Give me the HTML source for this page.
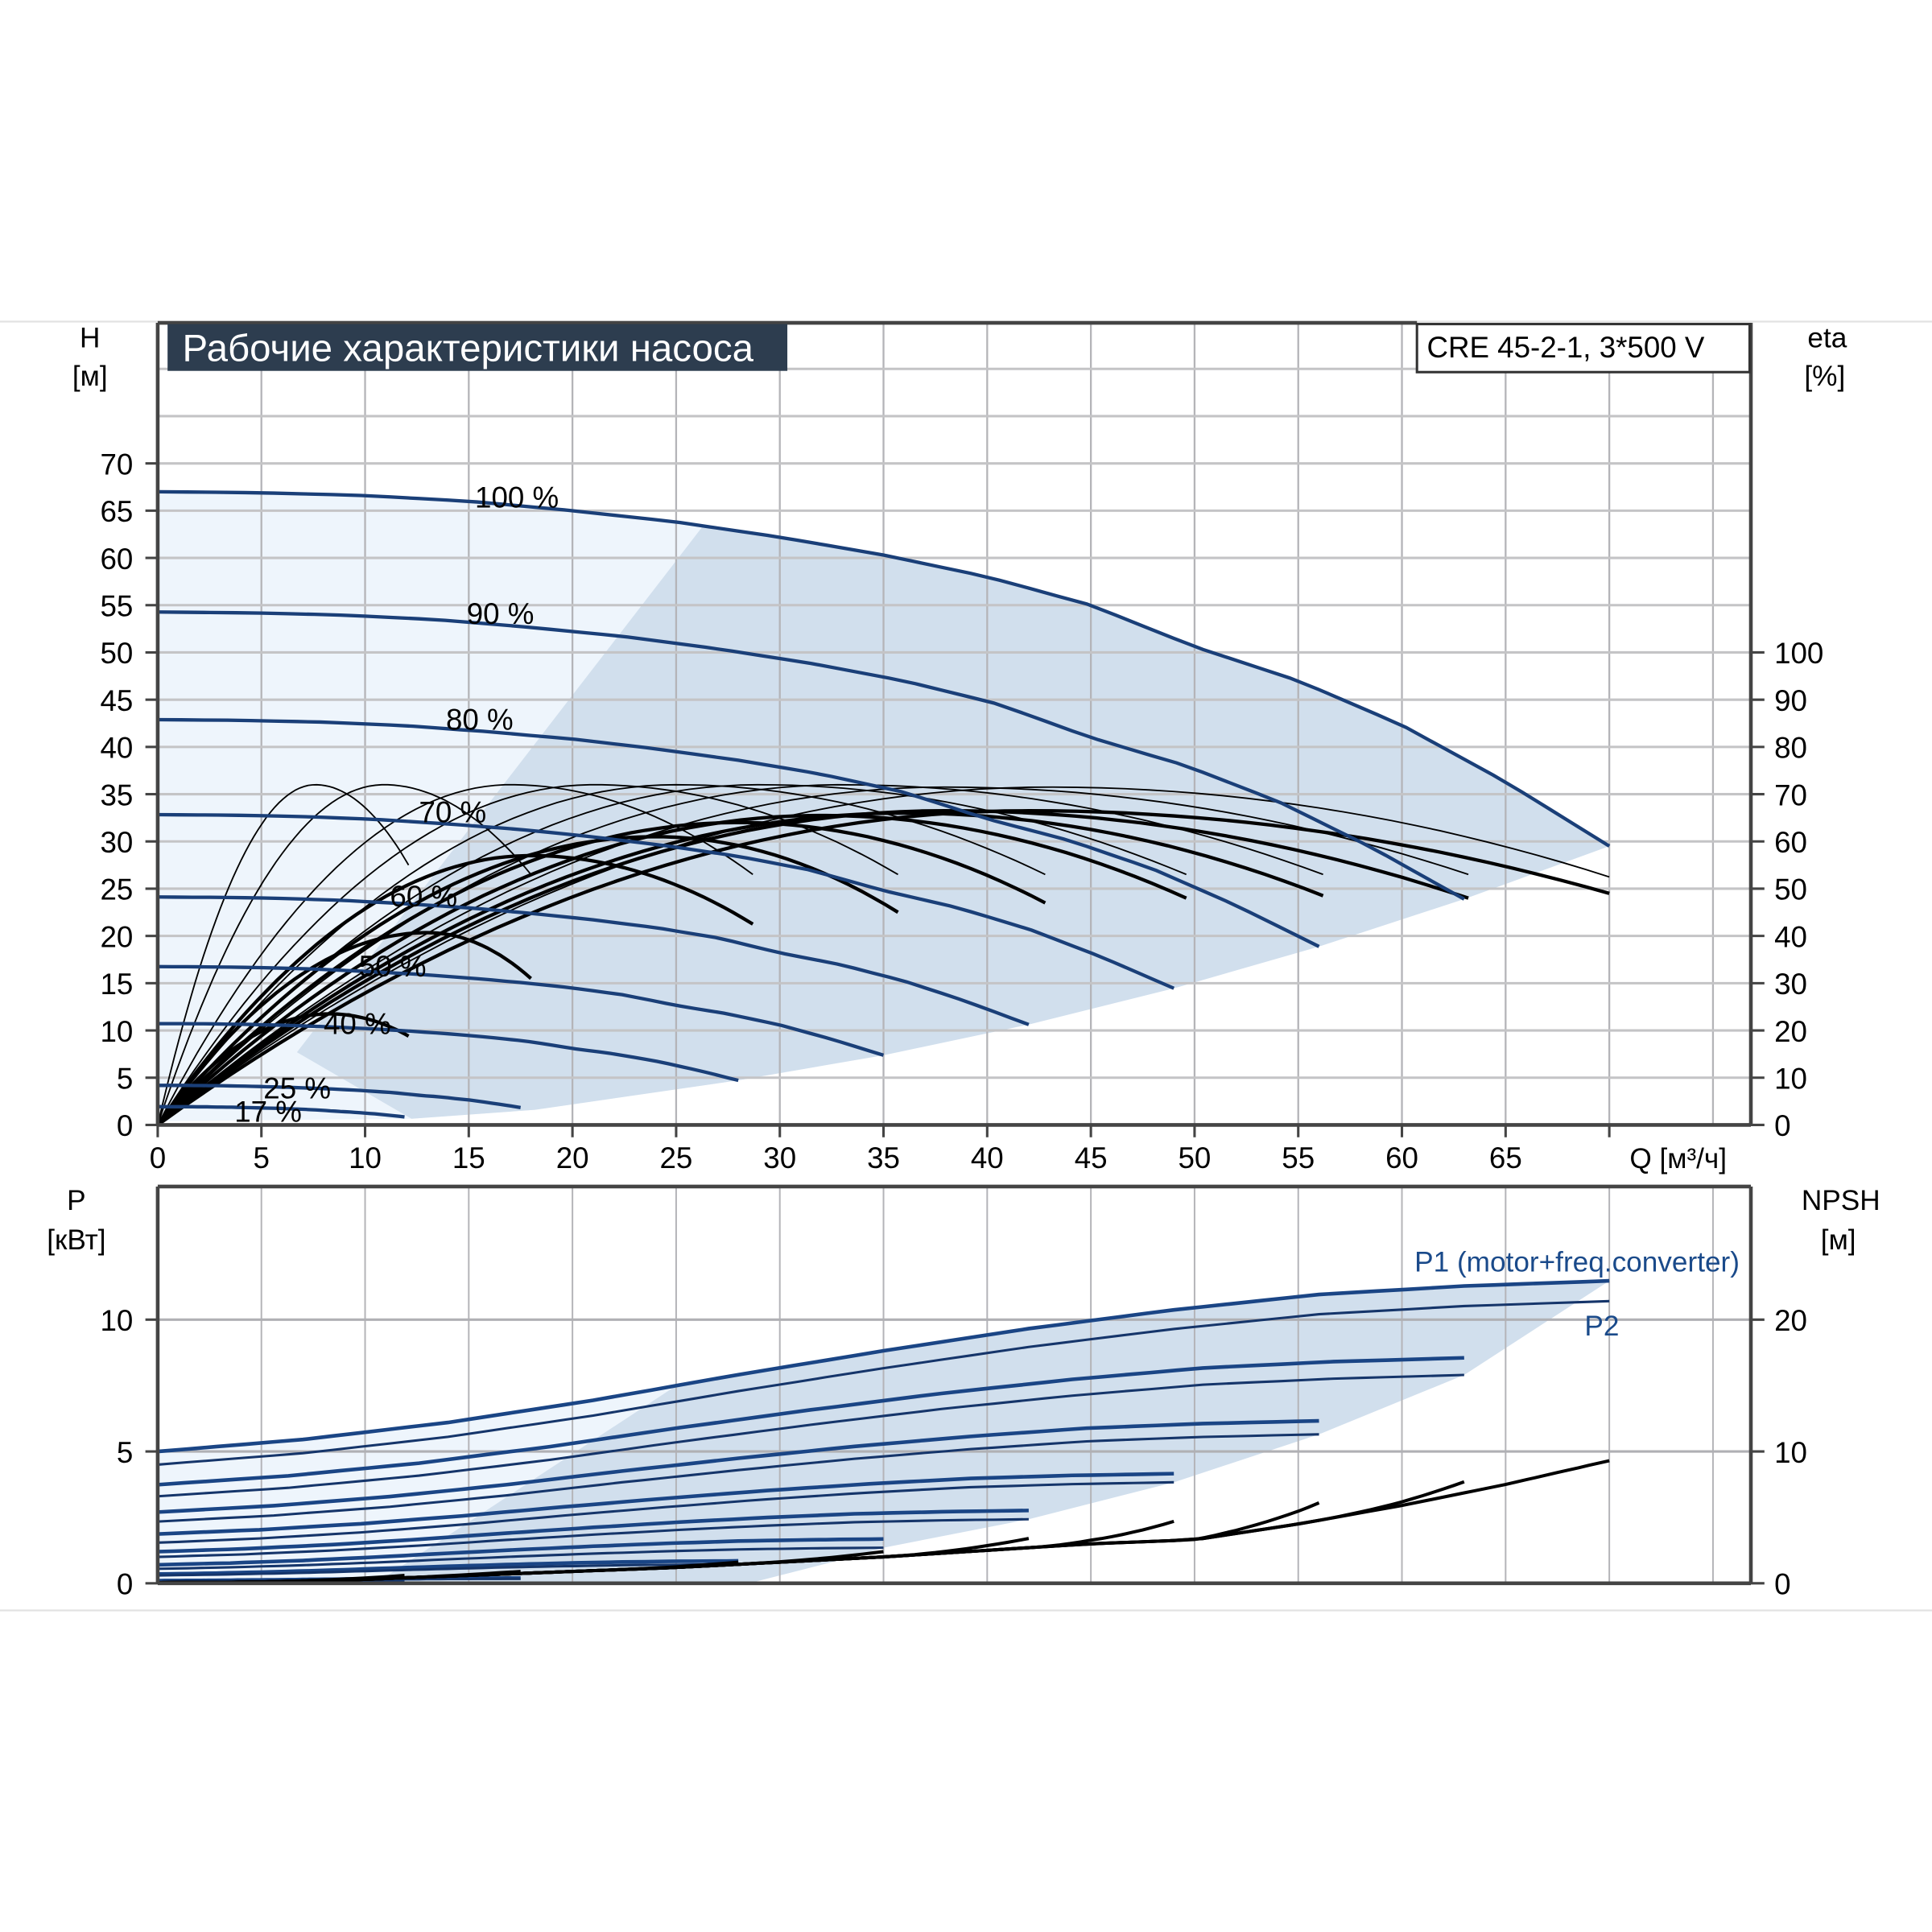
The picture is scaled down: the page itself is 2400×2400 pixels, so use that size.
<!DOCTYPE html>
<html><head><meta charset="utf-8"><style>
html,body{margin:0;padding:0;background:#fff}
svg{display:block}
text{font-family:"Liberation Sans","DejaVu Sans",sans-serif}
</style></head><body>
<svg id="chart" xmlns="http://www.w3.org/2000/svg" width="2400" height="2400" viewBox="0 0 1568 1568">
<rect x="0" y="0" width="1568" height="1568" fill="#fff"/>
<line x1="0" y1="261" x2="1568" y2="261" stroke="#e2e2e2" stroke-width="1.5"/>
<line x1="0" y1="1307" x2="1568" y2="1307" stroke="#e2e2e2" stroke-width="1.5"/>
<g id="upper-shade"></g>
<g id="upper-grid"></g>
<g id="lower-shade"></g>
<g id="lower-grid"></g>
<g id="eta-curves"></g>
<g id="h-curves"></g>
<g id="p-curves"></g>
<g id="npsh-curves"></g>
<g id="axes"></g>
<g id="labels"></g>

<g>
<rect x="136" y="263" width="503" height="38" fill="#2d3d4f"/>
<text x="148" y="293" font-size="31" fill="#fff">Рабочие характеристики насоса</text>
</g>
<g>
<rect x="1150" y="263" width="270" height="39" fill="#fff" stroke="#333" stroke-width="2"/>
<text x="1158" y="290" font-size="24" fill="#000">CRE 45-2-1, 3*500 V</text>
</g>
<text x="73" y="282" font-size="23" text-anchor="middle">H</text>
<text x="73" y="313" font-size="23" text-anchor="middle">[м]</text>
<text x="1483" y="282" font-size="23" text-anchor="middle">eta</text>
<text x="1481" y="313" font-size="23" text-anchor="middle">[%]</text>
<text x="1362" y="948" font-size="23" text-anchor="middle">Q [м³/ч]</text>
<text x="62" y="982" font-size="23" text-anchor="middle">P</text>
<text x="62" y="1014" font-size="23" text-anchor="middle">[кВт]</text>
<text x="1494" y="982" font-size="23" text-anchor="middle">NPSH</text>
<text x="1492" y="1014" font-size="23" text-anchor="middle">[м]</text>
<text x="1148" y="1032" font-size="23" fill="#1a4a8a">P1 (motor+freq.converter)</text>
<text x="1286" y="1084" font-size="23" fill="#1a4a8a">P2</text>
</svg>
<script>
// ---------- data ----------
const qTicks = [0,5,10,15,20,25,30,35,40,45,50,55,60,65];
const hTicks = [0,5,10,15,20,25,30,35,40,45,50,55,60,65,70];
const etaTicks = [0,10,20,30,40,50,60,70,80,90,100];
const pTicks = [0,5,10];
const npshTicks = [0,10,20];
// head curve at 100% speed, Q = 0..70 step 5
const qGrid = [0,5,10,15,20,25,30,35,40,45,50,55,60,65,70];
const h100 = [67,66.9,66.6,66,65,63.8,62.2,60.3,58,55,50.6,47,42.3,36.3,29.5];
const speeds = [1.0,0.9,0.8,0.7,0.6,0.5,0.4,0.25,0.17];
const speedLabels = ["100 %","90 %","80 %","70 %","60 %","50 %","40 %","25 %","17 %"];
const labelQ = [15.3,14.9,13.9,12.6,11.2,9.7,8.0,5.1,3.7];
const labelH = [66.5,54.2,43,33.2,24.3,16.9,10.8,4.0,1.5];
// efficiency (thick) per speed
const etaPeakQ = [42,38,36,32,28,24,18,13,8.3];
const etaPeak = [66.5,66.5,66,65.5,64,61,57,40.7,23.5];
const etaEndQ = [70,63.2,56.2,49.6,42.8,35.7,28.7,18,12.1];
const etaEnd = [49,48,48.5,48,47,45,42.5,31,18.8];
// efficiency (thin) per speed
const etaThinPeakQ = [43,38,33,29,25,21,17,10.9,7.6];
const etaThinPeak = [71.5,71.5,72,72,72,72,72,72,72];
const etaThinEnd = [52.5,53,53,53,53,53,53,53,55];
// power
const p1Start = [5.0,3.74,2.7,1.87,1.2,0.7,0.35,0.1,0.03];
const p1End = [11.47,8.55,6.16,4.16,2.76,1.68,0.85,0.2,0.07];
const p2Start = [4.5,3.3,2.34,1.54,1.0,0.55,0.3,0.08,0.03];
const p2End = [10.7,7.9,5.65,3.83,2.43,1.35,0.72,0.17,0.06];
const pShape = [0,0.07,0.17,0.30,0.45,0.59,0.72,0.83,0.92,0.97,1];
// NPSH
const npshBase = [0.05,0.1,0.3,0.6,0.9,1.2,1.6,2.0,2.5,3.0,3.3,4.5,5.9,7.5,9.3];
const npshEnd = [9.3,7.7,6.1,4.7,3.4,2.4,1.6,0.9,0.6];

// ---------- scales ----------
const X0=128, XS=16.83;
const qx = q => X0 + q*XS;
const hy = h => 913 - h*7.67;
const ey = e => 913 - e*3.835;
const py = p => 1285 - p*21.4;
const ny = n => 1285 - n*10.7;
const NS='http://www.w3.org/2000/svg';
function mk(parent, tag, attrs){const e=document.createElementNS(NS,tag);for(const k in attrs)e.setAttribute(k,attrs[k]);parent.appendChild(e);return e;}
function interp(arr, q){ // arr on qGrid
  const i=Math.min(Math.floor(q/5),arr.length-2); const t=(q-qGrid[i])/5; return arr[i]+(arr[i+1]-arr[i])*t;}
function H(s,q){ return s*s*interp(h100,q/s); }
function etaF(q,qp,pk,qe,ee){ if(q<=qp){const r=1-q/qp;return pk*(1-r*r);} const r=(q-qp)/(qe-qp); return pk-(pk-ee)*r*r; }
function gS(f){ const i=Math.min(Math.floor(f*10),9); const t=f*10-i; return pShape[i]+(pShape[i+1]-pShape[i])*t; }
function pts(fn,q0,q1,n){let a=[];for(let i=0;i<=n;i++){const q=q0+(q1-q0)*i/n;a.push(fn(q));}return a;}
function dstr(a){return 'M'+a.map(p=>p[0].toFixed(1)+','+p[1].toFixed(1)).join(' L');}

// ---------- upper shading ----------
const us=document.getElementById('upper-shade');
const qMax = speeds.map(s=>70*s);
let topCurve = pts(q=>[qx(q),hy(H(1,q))],0,70,60);
let bottomB = speeds.map((s,i)=>[qx(qMax[i]),hy(H(s,qMax[i]))]).slice(0,7);
bottomB.push([qx(18.2),hy(H(0.25,18.2))],[334,908]);
let light = topCurve.concat(bottomB).concat([[128,910]]);
let el=mk(us,'path',{d:dstr(light)+'Z',fill:'#eef5fc'});


let darkTop = pts(q=>[qx(q),hy(H(1,q))],26.3,70,40);
let dark = darkTop.concat(bottomB).concat([[241,854]]);
el=mk(us,'path',{d:dstr(dark)+'Z',fill:'#d1dfed'});



// ---------- grids ----------
const ug=document.getElementById('upper-grid');
for(let i=1;i<=15;i++){const x=qx(i*5);
  el=mk(ug,'line',{x1:x,y1:262,x2:x,y2:913,stroke:'#b4b4b8','stroke-width':1.5});
  
  }
for(let h=5;h<=80;h+=5){const y=hy(h);
  el=mk(ug,'line',{x1:128,y1:y,x2:1421,y2:y,stroke:'#c4c4c6','stroke-width':2});
  
  }

// ---------- lower shading ----------
const ls=document.getElementById('lower-shade');
const p1 = (i,q)=>p1Start[i]+(p1End[i]-p1Start[i])*gS(q/qMax[i]);
const p2 = (i,q)=>p2Start[i]+(p2End[i]-p2Start[i])*gS(q/qMax[i]);
let lTop = pts(q=>[qx(q),py(p1(0,q))],0,70,60);
let lB = [[qx(70),py(p1End[0])]];
for(let i=1;i<6;i++) lB.push([qx(qMax[i]),py(p2End[i])]);
lB.push([qx(33),py(0.9)],[qx(28.5),1285]);
el=mk(ls,'path',{d:dstr(lTop.concat(lB).concat([[128,1285]]))+'Z',fill:'#eef5fc'});


let lDark = pts(q=>[qx(q),py(p1(0,q))],25,70,40).concat(lB).concat([[qx(10.5),1285]]);
el=mk(ls,'path',{d:dstr(lDark)+'Z',fill:'#d1dfed'});


const lg=document.getElementById('lower-grid');
for(let i=1;i<=15;i++){const x=qx(i*5);
  el=mk(lg,'line',{x1:x,y1:963,x2:x,y2:1285,stroke:'#b4b4b8','stroke-width':1.3});
  
  }
[5,10].forEach(p=>{el=mk(lg,'line',{x1:128,y1:py(p),x2:1421,y2:py(p),stroke:'#b0b0b4','stroke-width':2});
  
  });

// ---------- efficiency ----------
const eg=document.getElementById('eta-curves');
speeds.forEach((s,i)=>{
  let a=pts(q=>[qx(q),ey(etaF(q,etaThinPeakQ[i],etaThinPeak[i],etaEndQ[i],etaThinEnd[i]))],0,etaEndQ[i],60);
  el=mk(eg,'path',{d:dstr(a),fill:'none',stroke:'#000','stroke-width':1.2});
  
  
  a=pts(q=>[qx(q),ey(etaF(q,etaPeakQ[i],etaPeak[i],etaEndQ[i],etaEnd[i]))],0,etaEndQ[i],60);
  el=mk(eg,'path',{d:dstr(a),fill:'none',stroke:'#000','stroke-width':2.8});
  
  
});

// ---------- head ----------
const hg=document.getElementById('h-curves');
speeds.forEach((s,i)=>{
  const a=pts(q=>[qx(q),hy(H(s,q))],0,qMax[i],50);
  el=mk(hg,'path',{d:dstr(a),fill:'none',stroke:'#1a3f78','stroke-width':2.8});
  
  
});

// ---------- power ----------
const pg=document.getElementById('p-curves');
speeds.forEach((s,i)=>{
  let a=pts(q=>[qx(q),py(p1(i,q))],0,qMax[i],50);
  el=mk(pg,'path',{d:dstr(a),fill:'none',stroke:'#1a4585','stroke-width':3});
  
  
  a=pts(q=>[qx(q),py(p2(i,q))],0,qMax[i],50);
  el=mk(pg,'path',{d:dstr(a),fill:'none',stroke:'#15356a','stroke-width':2});
  
  
});

// ---------- NPSH ----------
const ng=document.getElementById('npsh-curves');
speeds.forEach((s,i)=>{
  const qe=qMax[i], qs=Math.max(qe-7,0);
  let a=pts(q=>[qx(q),ny(interp(npshBase,q))],0,qs,40);
  const b0=interp(npshBase,qs), b1=interp(npshBase,qe);
  a=a.concat(pts(q=>{const t=(q-qs)/(qe-qs);return [qx(q),ny(interp(npshBase,q)+(npshEnd[i]-b1)*t*t)];},qs,qe,14));
  el=mk(ng,'path',{d:dstr(a),fill:'none',stroke:'#000','stroke-width':2.6});
  
  
});

// ---------- axes ----------
const ax=document.getElementById('axes');
[[128,262,128,913],[1421,262,1421,913],[128,913,1421,913],[128,262,1150,262],
 [128,963,1421,963],[128,963,128,1285],[1421,963,1421,1285],[128,1285,1421,1285]].forEach(l=>{
  el=mk(ax,'line',{x1:l[0],y1:l[1],x2:l[2],y2:l[3],stroke:'#444','stroke-width':3});
  
  });
const lb=document.getElementById('labels');
hTicks.forEach(h=>{const y=hy(h);
  mk(ax,'line',{x1:118,y1:y,x2:128,y2:y,stroke:'#444','stroke-width':2});
  el=mk(lb,'text',{x:108,y:y+9,'font-size':24,'text-anchor':'end'}); el.textContent=h;
  
  });
etaTicks.forEach(e=>{const y=ey(e);
  mk(ax,'line',{x1:1421,y1:y,x2:1432,y2:y,stroke:'#444','stroke-width':2});
  el=mk(lb,'text',{x:1440,y:y+9,'font-size':24}); el.textContent=e;
  
  });
qTicks.forEach(q=>{const x=qx(q);
  mk(ax,'line',{x1:x,y1:913,x2:x,y2:923,stroke:'#444','stroke-width':2});
  el=mk(lb,'text',{x:x,y:948,'font-size':24,'text-anchor':'middle'}); el.textContent=q;
  
  });
mk(ax,'line',{x1:qx(70),y1:913,x2:qx(70),y2:923,stroke:'#444','stroke-width':2});
pTicks.forEach(p=>{const y=py(p);
  mk(ax,'line',{x1:118,y1:y,x2:128,y2:y,stroke:'#444','stroke-width':2});
  el=mk(lb,'text',{x:108,y:y+9,'font-size':24,'text-anchor':'end'}); el.textContent=p;
  
  });
npshTicks.forEach(n=>{const y=ny(n);
  mk(ax,'line',{x1:1421,y1:y,x2:1432,y2:y,stroke:'#444','stroke-width':2});
  el=mk(lb,'text',{x:1440,y:y+9,'font-size':24}); el.textContent=n;
  
  });
speedLabels.forEach((t,i)=>{
  el=mk(lb,'text',{x:qx(labelQ[i]),y:hy(labelH[i])+9,'font-size':24}); el.textContent=t;
  
  });
</script>
</body></html>
